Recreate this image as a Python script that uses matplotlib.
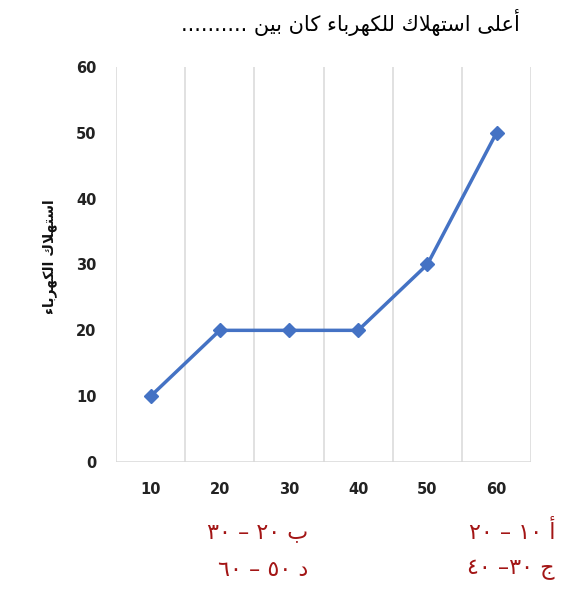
"""
Line chart: electricity consumption by category (Excel-style), Arabic labels.
"""
import matplotlib
matplotlib.use("Agg")
import matplotlib.pyplot as plt

# data
categories = ["10", "20", "30", "40", "50", "60"]
consumption = [10, 20, 20, 20, 30, 50]
y_ticks = [0, 10, 20, 30, 40, 50, 60]

title_text = "أعلى استهلاك للكهرباء كان بين .........."
ylabel_text = "استهلاك الكهرباء"
answers = [
    ("أ ١٠ – ٢٠", "right_col", 0),
    ("ب ٢٠ – ٣٠", "left_col", 0),
    ("ج ٣٠– ٤٠", "right_col", 1),
    ("د ٥٠ – ٦٠", "left_col", 1),
]

LINE_COLOR = "#4472C4"
GRID_COLOR = "#D9D9D9"
ANSWER_COLOR = "#A31515"

# Arabic presentation forms: isolated, final, initial, medial
FORMS = {
    "ا": ("\uFE8D", "\uFE8E", None, None),
    "أ": ("\uFE83", "\uFE84", None, None),
    "ء": ("\uFE80", None, None, None),
    "ب": ("\uFE8F", "\uFE90", "\uFE91", "\uFE92"),
    "ت": ("\uFE95", "\uFE96", "\uFE97", "\uFE98"),
    "ج": ("\uFE9D", "\uFE9E", "\uFE9F", "\uFEA0"),
    "د": ("\uFEA9", "\uFEAA", None, None),
    "ر": ("\uFEAD", "\uFEAE", None, None),
    "س": ("\uFEB1", "\uFEB2", "\uFEB3", "\uFEB4"),
    "ع": ("\uFEC9", "\uFECA", "\uFECB", "\uFECC"),
    "ك": ("\uFED9", "\uFEDA", "\uFEDB", "\uFEDC"),
    "ل": ("\uFEDD", "\uFEDE", "\uFEDF", "\uFEE0"),
    "ن": ("\uFEE5", "\uFEE6", "\uFEE7", "\uFEE8"),
    "ه": ("\uFEE9", "\uFEEA", "\uFEEB", "\uFEEC"),
    "ى": ("\uFEEF", "\uFEF0", None, None),
    "ي": ("\uFEF1", "\uFEF2", "\uFEF3", "\uFEF4"),
    "\uFEFB": ("\uFEFB", "\uFEFC", None, None),  # lam-alef
    "\uFEF7": ("\uFEF7", "\uFEF8", None, None),  # lam-alef hamza
}


def shape(text):
    """Join Arabic letters and return them in visual (left-to-right) order."""
    text = text.replace("لأ", "\uFEF7").replace("لا", "\uFEFB")
    chars = list(text)
    out = []
    for i, c in enumerate(chars):
        if c not in FORMS:
            out.append(c)
            continue
        iso, fin, ini, med = FORMS[c]
        prev = i > 0 and chars[i - 1] in FORMS and FORMS[chars[i - 1]][2] is not None
        nxt = (
            i < len(chars) - 1
            and chars[i + 1] in FORMS
            and FORMS[chars[i + 1]][1] is not None
        )
        prev = prev and fin is not None
        nxt = nxt and ini is not None
        if prev and nxt:
            out.append(med)
        elif prev:
            out.append(fin)
        elif nxt:
            out.append(ini)
        else:
            out.append(iso)
    # reverse, keeping digit runs left-to-right
    tokens = []
    for c in out:
        if c.isdigit() and tokens and tokens[-1][-1].isdigit():
            tokens[-1] += c
        else:
            tokens.append(c)
    return "".join(reversed(tokens))


plt.rcParams["font.family"] = ["DejaVu Sans"]

fig = plt.figure(figsize=(5.83, 5.97), dpi=100)
ax = fig.add_axes([0.199, 0.226, 0.712, 0.662])

x = list(range(len(categories)))
ax.plot(
    x,
    consumption,
    color=LINE_COLOR,
    linewidth=2.5,
    marker="D",
    markersize=7.5,
    zorder=5,
)

ax.set_xlim(-0.5, len(categories) - 0.5)
ax.set_ylim(0, 60)
ax.set_xticks(x)
ax.set_xticklabels(categories)
ax.set_yticks(y_ticks)
for b in range(len(categories) + 1):
    ax.axvline(b - 0.5, color=GRID_COLOR, linewidth=1.1, zorder=1)
ax.axhline(0, color=GRID_COLOR, linewidth=1.1, zorder=1)

for s in ax.spines.values():
    s.set_visible(False)
ax.tick_params(axis="both", length=0, colors="#222222", labelsize=10.5)
ax.tick_params(axis="y", pad=14)
ax.tick_params(axis="x", pad=14)
for lab in ax.get_xticklabels() + ax.get_yticklabels():
    lab.set_fontweight("bold")

ax.set_ylabel(shape(ylabel_text), fontsize=10, fontweight="bold", color="#111111")
ax.yaxis.set_label_coords(-0.142, 0.52)

fig.text(0.892, 0.963, shape(title_text), ha="right", va="center", fontsize=15)

col_x = {"right_col": 0.952, "left_col": 0.528}
row_y = [0.109, 0.045]
for txt, col, row in answers:
    fig.text(
        col_x[col],
        row_y[row],
        shape(txt),
        ha="right",
        va="center",
        fontsize=16,
        color=ANSWER_COLOR,
    )

fig.savefig("out.png", dpi=100)
